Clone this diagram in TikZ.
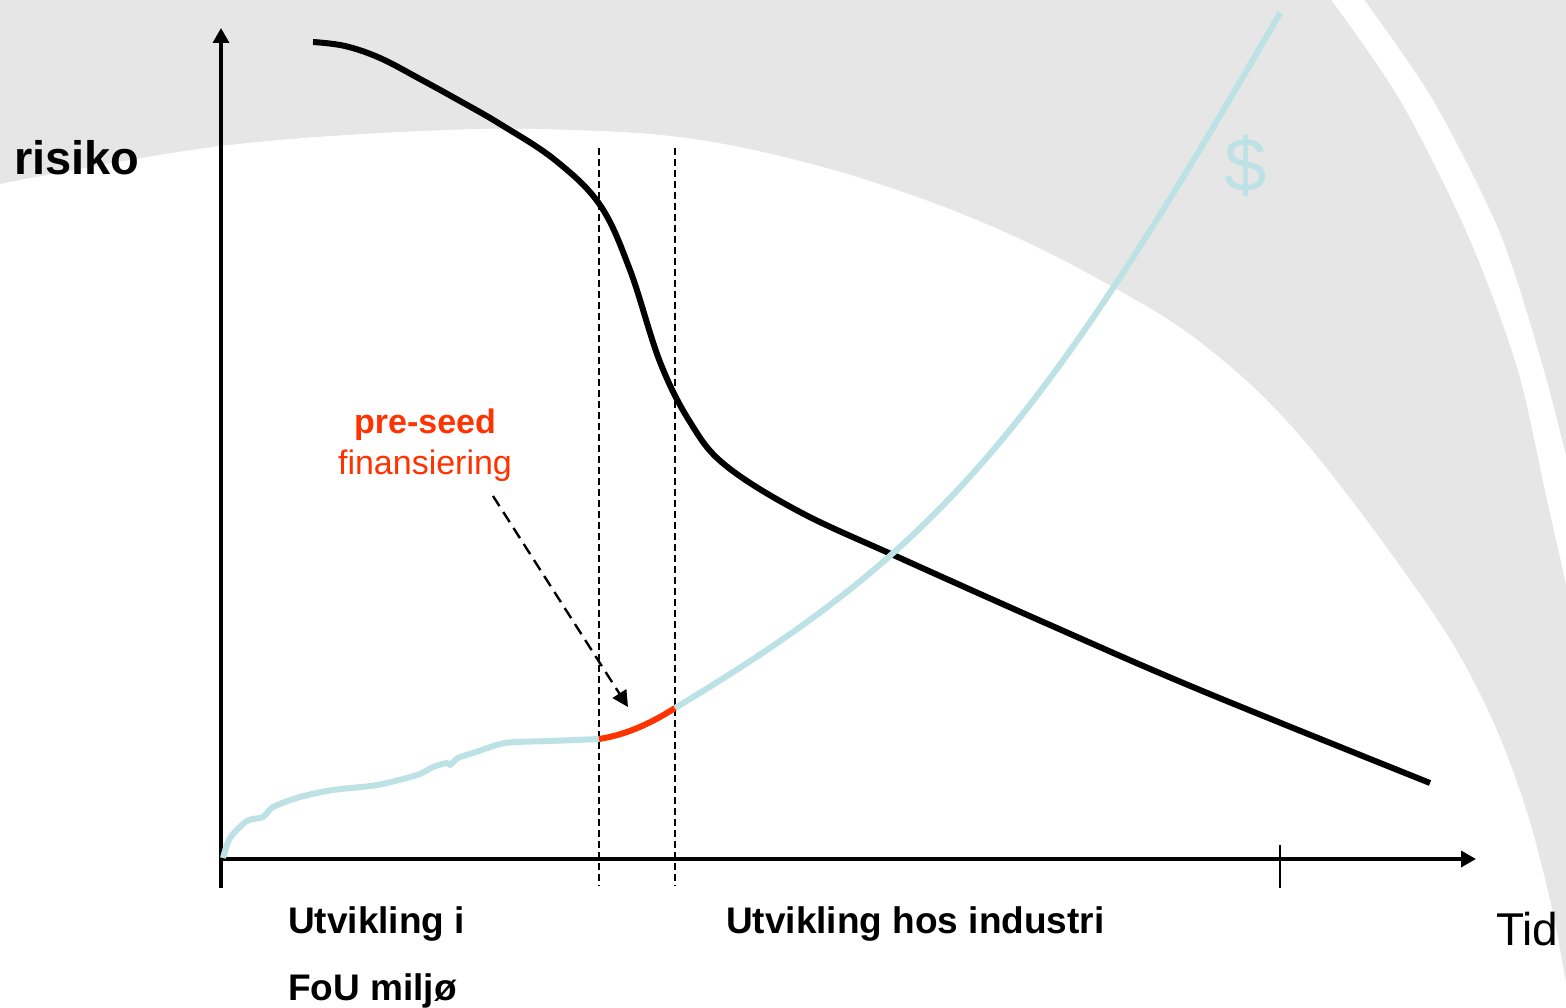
\documentclass[tikz,border=0pt]{standalone}
\usepackage{fontspec}
\setmainfont{Liberation Sans}
\usetikzlibrary{arrows.meta,positioning}
\definecolor{bggray}{HTML}{E6E6E6}
\definecolor{moneyblue}{HTML}{BDE2E5}
\definecolor{seedred}{HTML}{FF3300}

\begin{document}
\begin{tikzpicture}[x=1pt,y=-1pt,
  axis/.style={line width=3.5pt,-{Triangle[width=16pt,length=15pt]}},
  guide/.style={line width=1.6pt,dash pattern=on 7pt off 4pt},
  risk/.style={line width=6pt,line join=round},
  money/.style={line width=6pt,moneyblue,line join=round},
  pointer/.style={line width=2.4pt,dash pattern=on 12pt off 7pt,-{Triangle[width=16pt,length=16pt]}},
  lbl/.style={inner sep=0pt,anchor=base west}]
  \useasboundingbox (0,0) rectangle (1566,1008);
  \clip (0,0) rectangle (1566,1008);

  % background
  \fill[bggray] (0,0) rectangle (1566,1008);
  \fill[white] plot[smooth,tension=0.6] coordinates {(0,184) (221,146) (446,130) (600,131) (700,140)
    (800,161) (900,191) (1000,230) (1100,280) (1200,342) (1300,436) (1424,600) (1483,700)
    (1523,800) (1550,900) (1565,977) (1572,1012)} -- (0,1012) -- cycle;
  \fill[white] plot[smooth] coordinates {(1330,-2) (1400,100) (1467,233) (1517,367) (1547,500) (1572,610)}
    -- (1572,-2) -- cycle;
  \fill[bggray] plot[smooth] coordinates {(1363,-2) (1433,100) (1500,233) (1543,367) (1572,480)}
    -- (1572,-2) -- cycle;

  % axes
  \coordinate (origin) at (221,859);
  \coordinate (ybot) at (221,888);
  \coordinate (ytop) at (221,28);
  \coordinate (xend) at (1476,859);
  \coordinate (ticktop) at (1280,845);
  \coordinate (tickbot) at (1280,888);
  \draw[axis] (ybot) -- (ytop);
  \draw[axis] (origin) -- (xend);
  \draw[line width=2pt] (ticktop) -- (tickbot);

  % phase borders
  \coordinate (startA) at (599,148);
  \coordinate (endA) at (599,886);
  \coordinate (startB) at (675,148);
  \coordinate (endB) at (675,886);
  \draw[guide] (startA) -- (endA);
  \draw[guide] (startB) -- (endB);

  % risk
  \draw[risk] plot[smooth,tension=0.6] coordinates {(313,42) (345,46) (380,58) (420,79) (460,101)
    (500,124) (555,160) (600,205) (630,270) (660,362) (690,422) (725,465) (800,512) (900,558)
    (1050,625) (1200,690) (1430,783)};

  % money
  \draw[money] plot[smooth,tension=0.5] coordinates {(223,858) (230,838) (247,821) (263,817)
    (273,807) (300,797) (333,790) (377,785) (417,775) (433,767) (447,763) (450,765) (458,758)
    (473,753) (500,744) (517,742) (550,741) (599,739)};
  \draw[line width=6pt,seedred] (599,739) .. controls (625,735) and (650,724) .. (675,708);
  \draw[money] (675,708) .. controls (935,552) and (1035,439) .. (1280,13);
  \node[inner sep=0pt,text=moneyblue,font=\fontsize{76}{84}\selectfont] (dollar) at (1246,166) {\$};

  % labels
  \node[lbl,font=\fontsize{47}{56}\selectfont\bfseries] (risiko) at (14,175) {risiko};
  \node[lbl,font=\fontsize{46}{55}\selectfont] (tid) at (1496,945) {Tid};
  \node[lbl,font=\fontsize{37}{44}\selectfont\bfseries] (fou) at (288,933) {Utvikling i};
  \node[lbl,font=\fontsize{37}{44}\selectfont\bfseries] (miljo) at (288,1000) {FoU miljø};
  \node[lbl,font=\fontsize{37}{44}\selectfont\bfseries] (industri) at (726,933) {Utvikling hos industri};
  \node[inner sep=0pt,anchor=base,text=seedred,font=\fontsize{34}{40}\selectfont\bfseries] (preseed) at (425,433) {pre-seed};
  \node[inner sep=0pt,anchor=base,text=seedred,font=\fontsize{34}{40}\selectfont] (finans) at (425,474) {finansiering};

  \coordinate (seedfrom) at (493,496);
  \coordinate (seedto) at (628,707);
  \draw[pointer] (seedfrom) -- (seedto);
\end{tikzpicture}
\end{document}
